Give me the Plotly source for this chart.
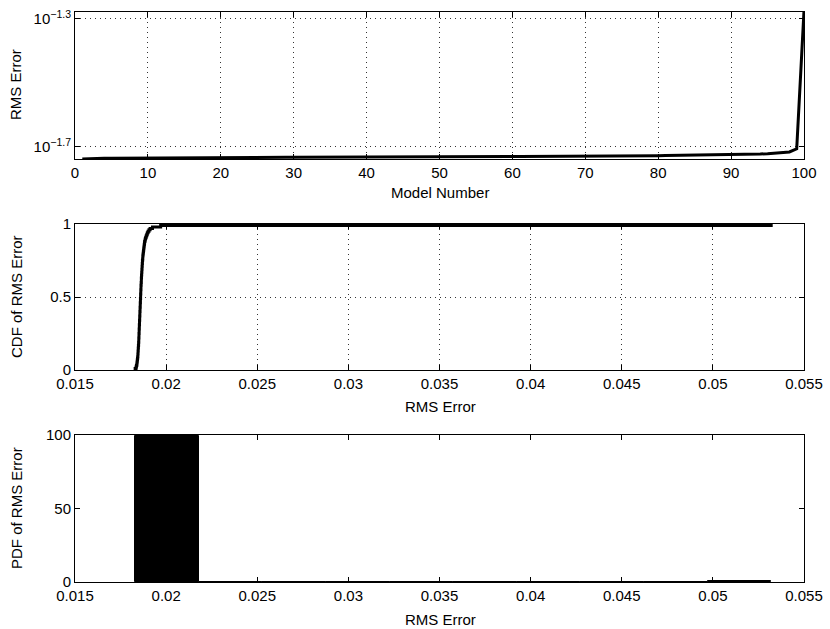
import numpy as np
import plotly.graph_objects as go

# sorted RMS error of each model (model 1..100)
model_number = list(range(1, 101))
rms_error = [
    0.01830, 0.01835, 0.01837, 0.01839, 0.01840, 0.01841, 0.01842, 0.01843, 0.01844, 0.01845,
    0.01845, 0.01846, 0.01846, 0.01847, 0.01847, 0.01848, 0.01848, 0.01849, 0.01849, 0.01850,
    0.01850, 0.01850, 0.01851, 0.01851, 0.01851, 0.01852, 0.01852, 0.01852, 0.01853, 0.01853,
    0.01853, 0.01854, 0.01854, 0.01854, 0.01855, 0.01855, 0.01855, 0.01856, 0.01856, 0.01856,
    0.01857, 0.01857, 0.01857, 0.01858, 0.01858, 0.01858, 0.01859, 0.01859, 0.01859, 0.01860,
    0.01860, 0.01860, 0.01861, 0.01861, 0.01861, 0.01862, 0.01862, 0.01862, 0.01863, 0.01863,
    0.01864, 0.01864, 0.01864, 0.01865, 0.01865, 0.01866, 0.01866, 0.01867, 0.01867, 0.01868,
    0.01868, 0.01869, 0.01869, 0.01870, 0.01870, 0.01871, 0.01872, 0.01872, 0.01873, 0.01874,
    0.01875, 0.01876, 0.01877, 0.01878, 0.01879, 0.01880, 0.01881, 0.01882, 0.01884, 0.01886,
    0.01888, 0.01891, 0.01894, 0.01897, 0.01901, 0.01906, 0.01912, 0.01925, 0.01970, 0.05320,
]
n_bins = 10

err_ticks = [0.015, 0.02, 0.025, 0.03, 0.035, 0.04, 0.045, 0.05, 0.055]
err_ticktext = ["0.015", "0.02", "0.025", "0.03", "0.035", "0.04", "0.045", "0.05", "0.055"]

# empirical CDF (stairs)
vals = np.sort(np.array(rms_error))
cdf_x = np.concatenate([[vals[0]], vals])
cdf_y = np.concatenate([[0.0], np.arange(1, len(vals) + 1) / len(vals)])

# histogram with 10 bins between min and max
counts, edges = np.histogram(vals, bins=n_bins)
centers = (edges[:-1] + edges[1:]) / 2
widths = np.diff(edges)

FONT = "Liberation Sans, Arial, Helvetica, sans-serif"
FS = 15

fig = go.Figure()

fig.add_trace(go.Scatter(
    x=model_number, y=rms_error, mode="lines",
    line=dict(color="black", width=3), xaxis="x", yaxis="y", showlegend=False,
))
fig.add_trace(go.Scatter(
    x=cdf_x, y=cdf_y, mode="lines", line_shape="hv",
    line=dict(color="black", width=3), xaxis="x2", yaxis="y2", showlegend=False,
))
fig.add_trace(go.Bar(
    x=centers, y=counts, width=widths,
    marker=dict(color="black", line=dict(color="black", width=1)),
    xaxis="x3", yaxis="y3", showlegend=False,
))

W, H = 830, 629
x_dom = [75 / W, 804 / W]


def ydom(top, bottom):
    return [1 - bottom / H, 1 - top / H]


common = dict(
    showline=True, linecolor="black", linewidth=1, mirror="ticks",
    ticks="inside", ticklen=5, tickcolor="black", zeroline=False,
    automargin=False,
    tickfont=dict(family=FONT, size=FS, color="black"),
    gridcolor="#333333", griddash="1px,4px", gridwidth=1,
)

fig.update_layout(
    width=W, height=H,
    margin=dict(l=0, r=0, t=0, b=0),
    paper_bgcolor="white", plot_bgcolor="white",
    font=dict(family=FONT, size=FS, color="black"),
    bargap=0,
    xaxis=dict(domain=x_dom, anchor="y", range=[0, 100], dtick=10, showgrid=True, **common),
    yaxis=dict(
        domain=ydom(12, 159), anchor="x", type="log",
        range=[np.log10(0.01830), np.log10(0.0527)],
        tickvals=[10 ** -1.7, 10 ** -1.3],
        ticktext=["10<sup>\u22121.7</sup>", "10<sup>\u22121.3</sup>"],
        showgrid=True, **common,
    ),
    xaxis2=dict(domain=x_dom, anchor="y2", range=[0.015, 0.055],
                tickvals=err_ticks, ticktext=err_ticktext, showgrid=True, **common),
    yaxis2=dict(domain=ydom(224, 370), anchor="x2", range=[0, 1],
                tickvals=[0, 0.5, 1], ticktext=["0", "0.5", "1"], showgrid=True, **common),
    xaxis3=dict(domain=x_dom, anchor="y3", range=[0.015, 0.055],
                tickvals=err_ticks, ticktext=err_ticktext, showgrid=False, **common),
    yaxis3=dict(domain=ydom(435, 582), anchor="x3", range=[0, 100],
                tickvals=[0, 50, 100], showgrid=False, **common),
)

# axis titles
titles = [
    (16, 85, "RMS Error", 90),
    (440, 192, "Model Number", 0),
    (16, 297, "CDF of RMS Error", 90),
    (440, 406, "RMS Error", 0),
    (16, 508, "PDF of RMS Error", 90),
    (440, 619, "RMS Error", 0),
]
for px, py, text, rot in titles:
    fig.add_annotation(
        x=px / W, y=1 - py / H, xref="paper", yref="paper",
        text=text, showarrow=False, textangle=-rot,
        xanchor="center", yanchor="middle",
        font=dict(family=FONT, size=FS, color="black"),
    )

# drop the page's default body margin so the figure fills the window
fig.write_html(
    "out.html",
    config={"displayModeBar": False},
    post_script="document.body.style.margin='0';",
)
